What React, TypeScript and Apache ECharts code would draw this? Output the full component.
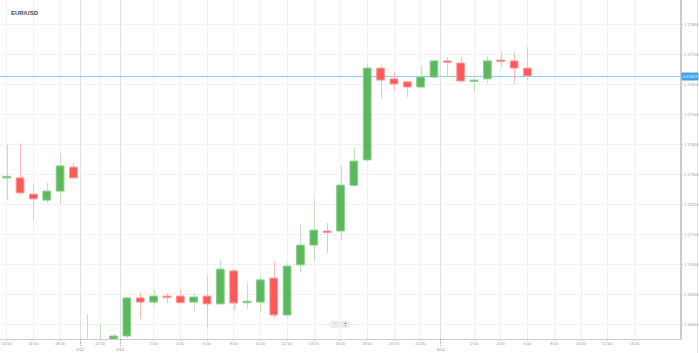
import React, { useEffect, useRef } from 'react';
import * as echarts from 'echarts';

const chartTitle = 'EUR/USD';

const opens = [1.17290, 1.17287, 1.17233, 1.17213, 1.17243, 1.17323, 1.16700, 1.16710, 1.16740, 1.16760, 1.16887, 1.16873, 1.16893, 1.16893, 1.16873, 1.16893, 1.16867, 1.16977, 1.16873, 1.16873, 1.16953, 1.16830, 1.16997, 1.17063, 1.17110, 1.17110, 1.17262, 1.17347, 1.17653, 1.17617, 1.17607, 1.17590, 1.17623, 1.17677, 1.17670, 1.17610, 1.17617, 1.17680, 1.17677, 1.17653];
const closes = [1.17292, 1.17237, 1.17217, 1.17243, 1.17327, 1.17287, 1.16720, 1.16730, 1.16760, 1.16887, 1.16873, 1.16893, 1.16890, 1.16871, 1.16890, 1.16867, 1.16983, 1.16870, 1.16876, 1.16947, 1.16830, 1.16993, 1.17063, 1.17113, 1.17107, 1.17263, 1.17343, 1.17653, 1.17613, 1.17600, 1.17590, 1.17623, 1.17677, 1.17673, 1.17610, 1.17613, 1.17677, 1.17678, 1.17653, 1.17627];
const lows = [1.17213, 1.17230, 1.17147, 1.17203, 1.17200, 1.17285, 1.16680, 1.16690, 1.16740, 1.16753, 1.16817, 1.16863, 1.16870, 1.16868, 1.16843, 1.16790, 1.16863, 1.16847, 1.16850, 1.16837, 1.16820, 1.16820, 1.16973, 1.17013, 1.17037, 1.17080, 1.17260, 1.17340, 1.17553, 1.17577, 1.17557, 1.17587, 1.17620, 1.17623, 1.17607, 1.17573, 1.17603, 1.17657, 1.17603, 1.17613];
const highs = [1.17397, 1.17403, 1.17267, 1.17270, 1.17367, 1.17337, 1.16833, 1.16800, 1.16767, 1.16890, 1.16907, 1.16913, 1.16903, 1.16913, 1.16903, 1.16960, 1.17013, 1.16983, 1.16937, 1.16963, 1.17007, 1.17003, 1.17133, 1.17220, 1.17137, 1.17327, 1.17387, 1.17667, 1.17663, 1.17640, 1.17610, 1.17660, 1.17680, 1.17690, 1.17690, 1.17633, 1.17693, 1.17710, 1.17707, 1.17723];

const slotCount = 51;
const timeTickIdx = [0, 2, 4, 7, 11, 13, 15, 17, 19, 21, 23, 25, 27, 29, 31, 35, 37, 39, 41, 43, 45, 47];
const timeTickText = ['14:00', '16:00', '18:00', '22:00', '2:00', '4:00', '6:00', '8:00', '10:00', '12:00', '14:00', '16:00', '18:00', '20:00', '22:00', '2:00', '4:00', '6:00', '8:00', '10:00', '12:00', '14:00'];
const dateTickPos = [5.5, 8.5, 32.5];
const dateTickText = ['4/12', '4/13', '4/14'];
const priceTicks = [1.168, 1.169, 1.170, 1.171, 1.172, 1.173, 1.174, 1.175, 1.176, 1.177, 1.178];

const FONT = 'Liberation Sans, Arial, sans-serif';
const UP = '#5cb85c';
const UP_EDGE = '#8fcf8f';
const UP_WICK = '#bfe3bf';
const DOWN = '#ff5858';
const DOWN_EDGE = '#ff9a9a';
const DOWN_WICK = '#ffbcbc';

export default function App() {
  const ref = useRef<HTMLDivElement>(null);
  useEffect(() => {
    const chart = echarts.init(ref.current!, null, { renderer: 'svg' });
    const data = opens.map((o, i) => [i, o, closes[i], lows[i], highs[i]]);
    const lastIdx = closes.length - 1;
    const lastClose = closes[lastIdx];

    const renderItem = (params: any, api: any) => {
      const i = api.value(0);
      const o = api.value(1);
      const c = api.value(2);
      const l = api.value(3);
      const h = api.value(4);
      const cs = params.coordSys;
      const pO = api.coord([i, o]);
      const pC = api.coord([i, c]);
      const pL = api.coord([i, l]);
      const pH = api.coord([i, h]);
      const w = api.size([1, 0])[0] * 0.58;
      const up = c >= o;
      const top = Math.min(pO[1], pC[1]);
      const bot = Math.max(pO[1], pC[1]);
      const hgt = Math.max(bot - top, 1.5);
      const yMin = cs.y;
      const yMax = cs.y + cs.height;
      const y1 = Math.max(Math.min(pH[1], yMax), yMin);
      const y2 = Math.max(Math.min(pL[1], yMax), yMin);
      const body = echarts.graphic.clipRectByRect(
        { x: pO[0] - w / 2, y: top, width: w, height: hgt },
        { x: cs.x, y: cs.y, width: cs.width, height: cs.height }
      );
      const children: any[] = [];
      if (y2 > y1) {
        children.push({
          type: 'line',
          shape: { x1: Math.round(pH[0]) + 0.5, y1, x2: Math.round(pH[0]) + 0.5, y2 },
          style: { stroke: up ? UP_WICK : DOWN_WICK, lineWidth: 1 },
        });
      }
      if (body) {
        children.push({
          type: 'rect',
          shape: body,
          style: { fill: up ? UP : DOWN, stroke: up ? UP_EDGE : DOWN_EDGE, lineWidth: 1 },
        });
      }
      return { type: 'group', children };
    };

    const renderPrice = (params: any, api: any) => {
      const cs = params.coordSys;
      const v = api.value(1);
      const p = api.coord([api.value(0), v]);
      const y = Math.round(p[1]) + 0.5;
      const right = cs.x + cs.width;
      return {
        type: 'group',
        children: [
          {
            type: 'line',
            shape: { x1: cs.x, y1: y, x2: right, y2: y },
            style: { stroke: '#8ecbee', lineWidth: 1 },
          },
          {
            type: 'rect',
            shape: { x: right + 0.5, y: y - 4, width: 17, height: 8, r: 1 },
            style: { fill: '#3ea6ef' },
          },
          {
            type: 'text',
            x: right + 9,
            y: y,
            style: {
              text: v.toFixed(5),
              fontSize: 4,
              fill: '#ffffff',
              align: 'center',
              verticalAlign: 'middle',
              fontFamily: FONT,
            },
          },
        ],
      };
    };

    const option: any = {
      animation: false,
      backgroundColor: '#ffffff',
      textStyle: { fontFamily: FONT },
      title: {
        text: chartTitle,
        left: 6,
        top: 5,
        textStyle: { fontSize: 6, fontWeight: 'bold', color: '#444', fontFamily: FONT },
      },
      grid: { left: 0, right: 18, top: 0, bottom: 14, containLabel: false, outerBoundsMode: 'none' },
      xAxis: [
        {
          type: 'value',
          min: -0.5,
          max: slotCount - 0.5,
          position: 'bottom',
          axisLine: { show: true, onZero: false, lineStyle: { color: '#cccccc', width: 1 } },
          axisTick: { show: true, length: 2, customValues: timeTickIdx, lineStyle: { color: '#cccccc' } },
          axisLabel: {
            customValues: timeTickIdx,
            formatter: (v: number) => {
              const k = timeTickIdx.indexOf(v);
              return k >= 0 ? timeTickText[k] : '';
            },
            fontSize: 4,
            color: '#999',
            margin: 2,
            fontFamily: FONT,
          },
          splitLine: { show: true, lineStyle: { color: '#f1f1f1', width: 1 } },
        },
        {
          type: 'value',
          min: -0.5,
          max: slotCount - 0.5,
          position: 'bottom',
          axisLine: { show: false, onZero: false },
          axisTick: { show: true, length: 7, customValues: dateTickPos, lineStyle: { color: '#999', type: [1.5, 1.5] } },
          axisLabel: {
            customValues: dateTickPos,
            formatter: (v: number) => {
              const k = dateTickPos.indexOf(v);
              return k >= 0 ? dateTickText[k] : '';
            },
            fontSize: 4,
            color: '#888',
            margin: 8,
            fontFamily: FONT,
          },
          splitLine: { show: true, lineStyle: { color: '#e0e0e0', width: 1 } },
        },
      ],
      yAxis: {
        type: 'value',
        position: 'right',
        min: 1.1675,
        max: 1.1788,
        axisLine: { show: true, onZero: false, lineStyle: { color: '#cbcbcb', width: 2 } },
        axisTick: { show: true, length: 2, customValues: priceTicks, lineStyle: { color: '#cccccc' } },
        axisLabel: {
          customValues: priceTicks,
          formatter: (v: number) => v.toFixed(5),
          fontSize: 4,
          color: '#999',
          margin: 3,
          fontFamily: FONT,
        },
        splitLine: { show: true, lineStyle: { color: '#f1f1f1', width: 1 } },
      },
      series: [
        {
          type: 'custom',
          name: 'last',
          xAxisIndex: 0,
          yAxisIndex: 0,
          clip: false,
          silent: true,
          renderItem: renderPrice,
          encode: { x: 0, y: 1 },
          data: [[lastIdx, lastClose]],
          z: 2,
        },
        {
          type: 'custom',
          name: chartTitle,
          xAxisIndex: 0,
          yAxisIndex: 0,
          clip: true,
          renderItem,
          encode: { x: 0, y: [1, 2, 3, 4] },
          data,
          z: 3,
        },
      ],
      graphic: [
        { type: 'line', shape: { x1: 697.5, y1: 0, x2: 697.5, y2: 353 }, style: { stroke: '#e6e6e6', lineWidth: 1 }, silent: true },
        {
          type: 'group',
          left: 331,
          top: 321,
          children: [
            { type: 'rect', shape: { x: 0, y: 0, width: 8, height: 6, r: 1 }, style: { fill: '#eeeeee', stroke: '#d6d6d6', lineWidth: 0.5 } },
            { type: 'rect', shape: { x: 2.5, y: 2.6, width: 3, height: 0.8 }, style: { fill: '#333' } },
            { type: 'rect', shape: { x: 10, y: 0, width: 8, height: 6, r: 1 }, style: { fill: '#eeeeee', stroke: '#d6d6d6', lineWidth: 0.5 } },
            { type: 'rect', shape: { x: 12.5, y: 2.6, width: 3, height: 0.8 }, style: { fill: '#333' } },
            { type: 'rect', shape: { x: 13.6, y: 1.5, width: 0.8, height: 3 }, style: { fill: '#333' } },
          ],
        },
      ],
    };
    chart.setOption(option);
    return () => chart.dispose();
  }, []);
  return <div ref={ref} style={{ position: 'absolute', left: 0, top: 0, width: 699, height: 353 }} />;
}
